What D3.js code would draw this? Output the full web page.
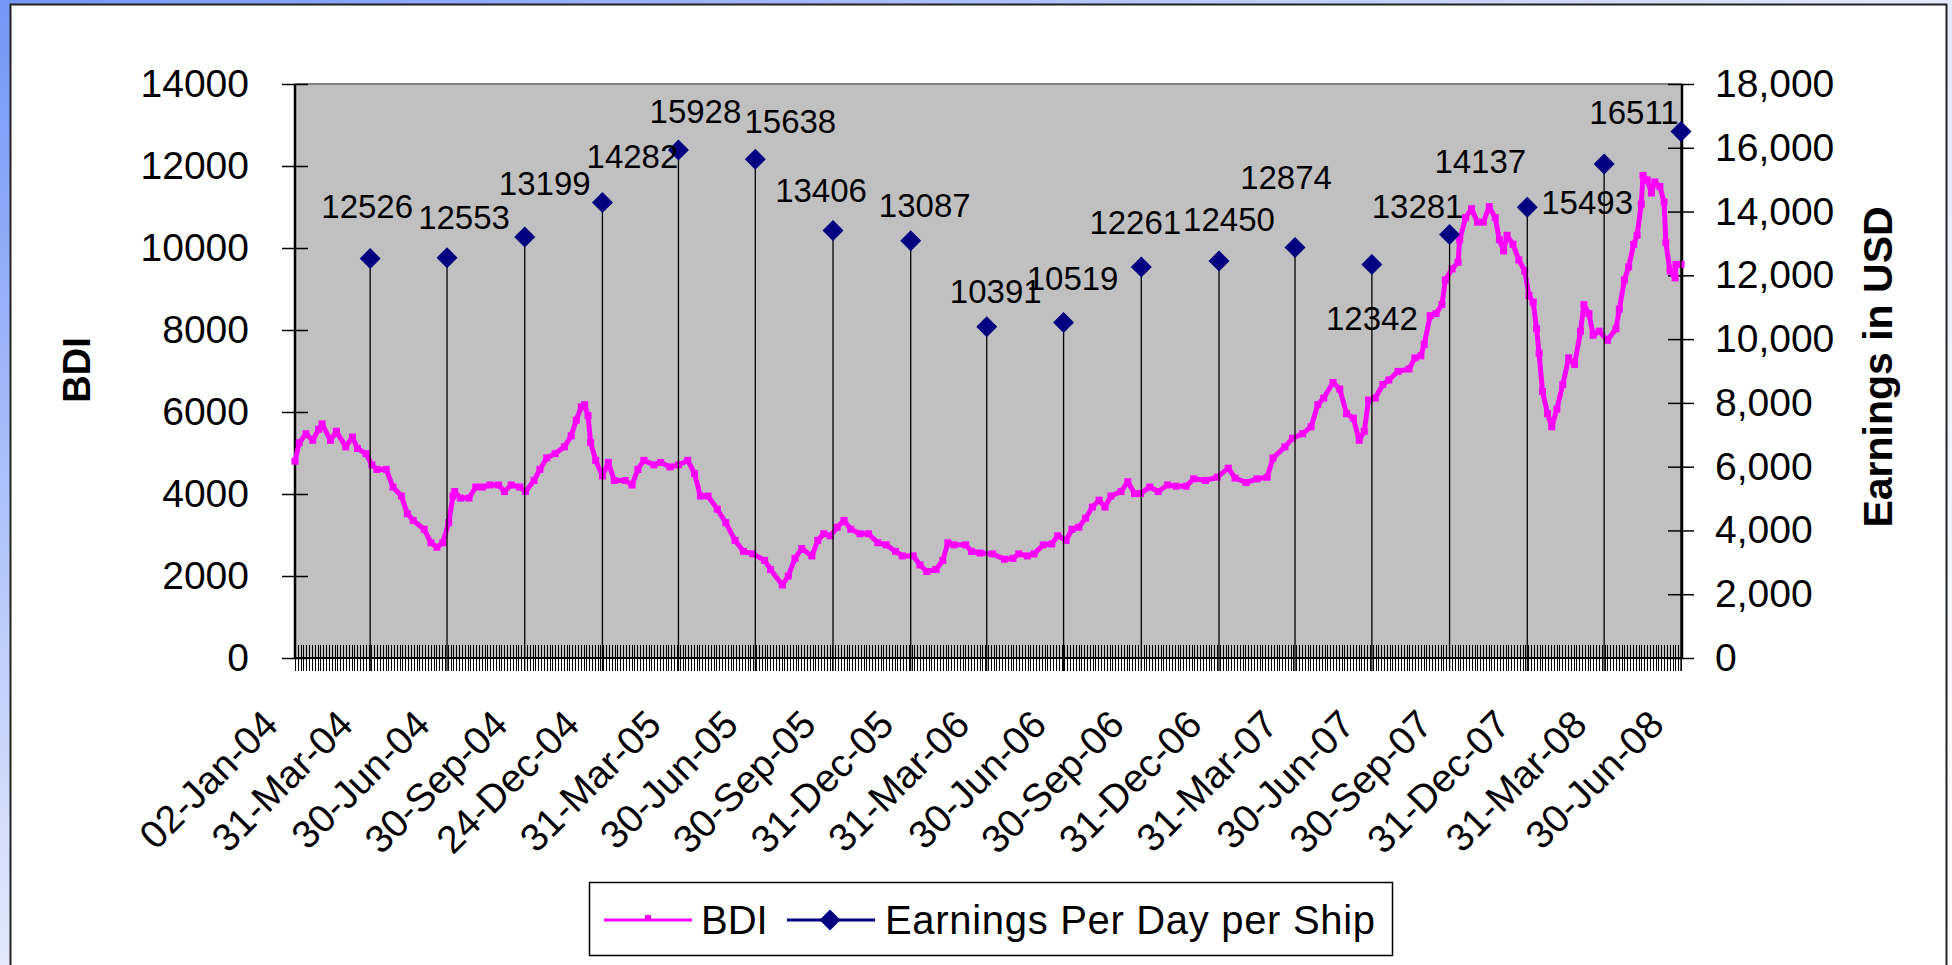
<!DOCTYPE html>
<html>
<head>
<meta charset="utf-8">
<script src="https://cdn.jsdelivr.net/npm/d3@7/dist/d3.min.js"></script>
<style>
html, body { margin: 0; padding: 0; background: #fff; overflow: hidden; }
svg { display: block; font-family: "Liberation Sans", Arial, sans-serif; }
</style>
</head>
<body>
<svg id="chart" width="1952" height="965"></svg>
<script>
//*
//* Data
//*

var bdiDates = [
	"2004-01-02","2004-01-07","2004-01-15","2004-01-23","2004-01-30","2004-02-03","2004-02-13","2004-02-20",
	"2004-03-02","2004-03-10","2004-03-16","2004-03-26","2004-04-02","2004-04-08","2004-04-19","2004-04-27",
	"2004-05-07","2004-05-14","2004-05-21","2004-06-03","2004-06-11","2004-06-18","2004-06-25","2004-07-02",
	"2004-07-07","2004-07-09","2004-07-16","2004-07-26","2004-08-03","2004-08-11","2004-08-20","2004-08-30",
	"2004-09-06","2004-09-14","2004-09-24","2004-10-01","2004-10-11","2004-10-18","2004-10-26","2004-11-05",
	"2004-11-16","2004-11-24","2004-11-30","2004-12-06","2004-12-10","2004-12-14","2004-12-17","2004-12-23",
	"2004-12-31","2005-01-07","2005-01-14","2005-01-27","2005-02-04","2005-02-11","2005-02-18","2005-03-02",
	"2005-03-10","2005-03-21","2005-03-31","2005-04-11","2005-04-19","2005-04-26","2005-05-05","2005-05-16",
	"2005-05-26","2005-06-06","2005-06-16","2005-06-27","2005-07-11","2005-07-18","2005-08-01","2005-08-08",
	"2005-08-16","2005-08-24","2005-09-05","2005-09-12","2005-09-19","2005-09-27","2005-10-05","2005-10-13",
	"2005-10-21","2005-11-01","2005-11-11","2005-11-22","2005-12-02","2005-12-13","2005-12-21","2006-01-03",
	"2006-01-11","2006-01-19","2006-01-30","2006-02-07","2006-02-13","2006-02-20","2006-03-06","2006-03-13",
	"2006-03-23","2006-04-07","2006-04-21","2006-05-01","2006-05-08","2006-05-18","2006-05-26","2006-06-06",
	"2006-06-16","2006-06-23","2006-07-03","2006-07-10","2006-07-18","2006-07-26","2006-08-03","2006-08-11",
	"2006-08-18","2006-08-25","2006-09-06","2006-09-14","2006-09-22","2006-09-29","2006-10-10","2006-10-20",
	"2006-10-31","2006-11-10","2006-11-22","2006-12-01","2006-12-15","2006-12-29","2007-01-11","2007-01-19",
	"2007-02-01","2007-02-14","2007-02-26","2007-03-05","2007-03-19","2007-03-28","2007-04-09","2007-04-19",
	"2007-04-27","2007-05-04","2007-05-15","2007-05-23","2007-05-31","2007-06-08","2007-06-15","2007-06-21",
	"2007-06-26","2007-07-04","2007-07-13","2007-07-20","2007-07-31","2007-08-13","2007-08-20","2007-08-27",
	"2007-08-31","2007-09-07","2007-09-14","2007-09-21","2007-09-25","2007-10-03","2007-10-10","2007-10-12",
	"2007-10-19","2007-10-26","2007-11-02","2007-11-09","2007-11-16","2007-11-23","2007-11-28","2007-12-03",
	"2007-12-07","2007-12-14","2007-12-21","2007-12-28","2008-01-02","2008-01-07","2008-01-11","2008-01-14",
	"2008-01-18","2008-01-24","2008-01-29","2008-02-04","2008-02-11","2008-02-18","2008-02-25","2008-03-03",
	"2008-03-07","2008-03-13","2008-03-18","2008-03-25","2008-04-04","2008-04-14","2008-04-18","2008-04-24",
	"2008-04-29","2008-05-05","2008-05-09","2008-05-14","2008-05-16","2008-05-21","2008-05-26","2008-05-30",
	"2008-06-05","2008-06-10","2008-06-12","2008-06-17","2008-06-23","2008-06-24","2008-06-30"
];
var bdiValues = [
	4800, 5250, 5470, 5310, 5580, 5710, 5310, 5530,
	5150, 5390, 5110, 4985, 4710, 4600, 4600, 4170,
	3950, 3520, 3355, 3140, 2810, 2700, 2810, 3300,
	3950, 4060, 3900, 3900, 4170, 4170, 4220, 4220,
	4060, 4220, 4170, 4060, 4330, 4600, 4880, 4985,
	5150, 5420, 5800, 6125, 6180, 5910, 5260, 4820,
	4440, 4770, 4330, 4330, 4220, 4600, 4820, 4710,
	4770, 4660, 4710, 4820, 4500, 3950, 3950, 3630,
	3300, 2870, 2600, 2540, 2380, 2160, 1780, 2000,
	2430, 2670, 2490, 2870, 3030, 2980, 3190, 3355,
	3140, 3030, 3030, 2810, 2760, 2600, 2490, 2490,
	2270, 2110, 2160, 2380, 2810, 2760, 2760, 2600,
	2560, 2540, 2410, 2430, 2540, 2490, 2540, 2760,
	2780, 2980, 2870, 3140, 3190, 3410, 3680, 3850,
	3680, 3950, 4060, 4300, 4010, 4010, 4170, 4060,
	4220, 4190, 4190, 4370, 4330, 4410, 4630, 4390,
	4280, 4370, 4410, 4880, 5150, 5360, 5470, 5640,
	6180, 6340, 6720, 6560, 5960, 5850, 5310, 5530,
	6290, 6340, 6670, 6780, 6990, 7050, 7320, 7370,
	7650, 8350, 8400, 8620, 9220, 9490, 9650, 10200,
	10740, 10960, 10630, 10630, 11010, 10740, 10200, 9930,
	10310, 10090, 9710, 9440, 8840, 8680, 8030, 7430,
	6500, 5960, 5640, 6070, 6670, 7320, 7160, 7970,
	8620, 8400, 7870, 7970, 7750, 8030, 8510, 9220,
	9540, 10090, 10310, 11070, 11770, 11660, 11340, 11610,
	11500, 11120, 10140, 9440, 9270, 9600, 9600
];

var earnDates = [
	"2004-03-31","2004-06-30","2004-09-30","2004-12-31","2005-03-31","2005-06-30",
	"2005-09-30","2005-12-31","2006-03-31","2006-06-30","2006-09-30","2006-12-31",
	"2007-03-31","2007-06-30","2007-09-30","2007-12-31","2008-03-31","2008-06-30"
];
var earnValues = [
	12526, 12553, 13199, 14282, 15928, 15638,
	13406, 13087, 10391, 10519, 12261, 12450,
	12874, 12342, 13281, 14137, 15493, 16511
];

var xLabelDates = [
	"2004-01-02","2004-03-31","2004-06-30","2004-09-30","2004-12-24","2005-03-31","2005-06-30",
	"2005-09-30","2005-12-31","2006-03-31","2006-06-30","2006-09-30","2006-12-31","2007-03-31",
	"2007-06-30","2007-09-30","2007-12-31","2008-03-31","2008-06-30"
];
var leftTicks = [0, 2000, 4000, 6000, 8000, 10000, 12000, 14000];
var rightTicks = [0, 2000, 4000, 6000, 8000, 10000, 12000, 14000, 16000, 18000];

// where each earnings label sits, relative to its marker
var labelDx = [-3, 17, 20, 30, 17, 35, -12, 14, 9, 9, -6, 10, -9, 0, -32, -47, -17, -47];
var labelDy = [-41, -29, -42, -35, -27, -26, -28, -24, -24, -33, -33, -30, -58, 66, -16, -34, 50, -7];

//*
//* Drawing
//*

var parse = d3.timeParse("%Y-%m-%d");
var fmtDate = d3.timeFormat("%d-%b-%y");

var plotLeft = 295, plotRight = 1682, plotTop = 84, plotBottom = 658;

var x = d3.scaleTime()
	.domain([parse("2004-01-02"), parse("2008-06-30")])
	.range([plotLeft, plotRight - 1]);
var yL = d3.scaleLinear().domain([0, 14000]).range([plotBottom, plotTop]);
var yR = d3.scaleLinear().domain([0, 18000]).range([plotBottom, plotTop]);

var svg = d3.select("#chart");

/* background */
var grad = svg.append("defs").append("linearGradient")
	.attr("id", "bg")
	.attr("x1", 0).attr("y1", 0).attr("x2", 1).attr("y2", 1);
grad.append("stop").attr("offset", "0").attr("stop-color", "#7596f7");
grad.append("stop").attr("offset", "0.5").attr("stop-color", "#e4e9fb");
grad.append("stop").attr("offset", "1").attr("stop-color", "#ffffff");

svg.append("rect")
	.attr("width", 1952).attr("height", 965)
	.attr("fill", "url(#bg)");
svg.append("rect")
	.attr("x", 10.5).attr("y", 4.5)
	.attr("width", 1936).attr("height", 1000)
	.attr("fill", "#fff")
	.attr("stroke", "#222")
	.attr("stroke-width", 2);

/* plot area */
svg.append("rect")
	.attr("x", plotLeft).attr("y", plotTop)
	.attr("width", plotRight - plotLeft).attr("height", plotBottom - plotTop)
	.attr("fill", "#c0c0c0");
svg.append("line")
	.attr("x1", plotLeft).attr("x2", plotRight)
	.attr("y1", plotTop).attr("y2", plotTop)
	.attr("stroke", "#808080")
	.attr("stroke-width", 2);

/* category tick comb */
var nTicks = 490;
var combX = d3.range(nTicks + 1).map(function(i) { return plotLeft + i * (plotRight - 1 - plotLeft) / nTicks; });
svg.append("g")
	.selectAll("line")
	.data(combX)
	.enter()
	.append("line")
	.attr("x1", function(d) { return Math.round(d) + 0.5; })
	.attr("x2", function(d) { return Math.round(d) + 0.5; })
	.attr("y1", plotBottom - 13)
	.attr("y2", plotBottom + 13)
	.attr("stroke", "#000")
	.attr("stroke-width", 1);

/* left axis */
var gL = svg.append("g")
	.attr("transform", "translate(" + plotLeft + ",0)")
	.call(d3.axisLeft(yL).tickValues(leftTicks).tickFormat(d3.format("d")).tickSize(13).tickPadding(33));
gL.select(".domain").remove();
gL.selectAll(".tick line").attr("x1", 13).attr("stroke", "#000").attr("stroke-width", 1.5);
gL.selectAll(".tick text")
	.attr("font-size", 39)
	.attr("font-family", "Liberation Sans, Arial, sans-serif")
	.attr("fill", "#000");

/* right axis */
var gR = svg.append("g")
	.attr("transform", "translate(" + plotRight + ",0)")
	.call(d3.axisRight(yR).tickValues(rightTicks).tickFormat(d3.format(",")).tickSize(12).tickPadding(21));
gR.select(".domain").remove();
gR.selectAll(".tick line").attr("x1", -14).attr("stroke", "#000").attr("stroke-width", 1.5);
gR.selectAll(".tick text")
	.attr("font-size", 39)
	.attr("font-family", "Liberation Sans, Arial, sans-serif")
	.attr("fill", "#000");

/* axis lines */
svg.append("line")
	.attr("x1", plotLeft).attr("x2", plotLeft).attr("y1", plotTop).attr("y2", plotBottom)
	.attr("stroke", "#000").attr("stroke-width", 2.5);
svg.append("line")
	.attr("x1", plotRight).attr("x2", plotRight).attr("y1", plotTop).attr("y2", plotBottom)
	.attr("stroke", "#000").attr("stroke-width", 2.5);
svg.append("line")
	.attr("x1", plotLeft).attr("x2", plotRight).attr("y1", plotBottom).attr("y2", plotBottom)
	.attr("stroke", "#000").attr("stroke-width", 2);

/* x labels */
svg.append("g")
	.selectAll("text")
	.data(xLabelDates)
	.enter()
	.append("text")
	.attr("transform", function(d) { return "translate(" + (x(parse(d)) - 15) + ",727) rotate(-45)"; })
	.attr("text-anchor", "end")
	.attr("font-size", 39)
	.attr("fill", "#000")
	.text(function(d) { return fmtDate(parse(d)); });

/* axis titles */
svg.append("text")
	.attr("transform", "translate(90,370) rotate(-90)")
	.attr("text-anchor", "middle")
	.attr("font-size", 38)
	.attr("font-weight", "bold")
	.text("BDI");
svg.append("text")
	.attr("transform", "translate(1892,367) rotate(-90)")
	.attr("text-anchor", "middle")
	.attr("font-size", 41)
	.attr("font-weight", "bold")
	.text("Earnings in USD");

/* BDI line */
var bdi = bdiDates.map(function(d, i) { return { date: parse(d), v: bdiValues[i] }; });
var line = d3.line()
	.x(function(d) { return x(d.date); })
	.y(function(d) { return yL(d.v); });
svg.append("path")
	.datum(bdi)
	.attr("d", line)
	.attr("fill", "none")
	.attr("stroke", "#ff00ff")
	.attr("stroke-width", 5)
	.attr("stroke-linejoin", "round");
svg.append("g")
	.selectAll("rect")
	.data(bdi)
	.enter()
	.append("rect")
	.attr("x", function(d) { return x(d.date) - 3.5; })
	.attr("y", function(d) { return yL(d.v) - 3.5; })
	.attr("width", 7)
	.attr("height", 7)
	.attr("fill", "#ff00ff");

/* earnings: drop lines, markers, labels */
var earn = earnDates.map(function(d, i) { return { date: parse(d), v: earnValues[i], i: i }; });
svg.append("g")
	.selectAll("line")
	.data(earn)
	.enter()
	.append("line")
	.attr("x1", function(d) { return x(d.date); })
	.attr("x2", function(d) { return x(d.date); })
	.attr("y1", function(d) { return yR(d.v); })
	.attr("y2", plotBottom + 13)
	.attr("stroke", "#000")
	.attr("stroke-width", 1.3);

var diamond = d3.symbol().type(d3.symbolSquare).size(220);
svg.append("g")
	.selectAll("path")
	.data(earn)
	.enter()
	.append("path")
	.attr("d", diamond)
	.attr("transform", function(d) { return "translate(" + x(d.date) + "," + yR(d.v) + ") rotate(45)"; })
	.attr("fill", "#000080");

svg.append("g")
	.selectAll("text")
	.data(earn)
	.enter()
	.append("text")
	.attr("x", function(d) { return x(d.date) + labelDx[d.i]; })
	.attr("y", function(d) { return yR(d.v) + labelDy[d.i]; })
	.attr("text-anchor", "middle")
	.attr("font-size", 33)
	.attr("fill", "#000")
	.text(function(d) { return d.v; });

/* legend */
var lg = svg.append("g");
lg.append("rect")
	.attr("x", 589.5).attr("y", 882.5)
	.attr("width", 803).attr("height", 73)
	.attr("fill", "#fff")
	.attr("stroke", "#000")
	.attr("stroke-width", 1.5);
lg.append("line")
	.attr("x1", 604).attr("x2", 692).attr("y1", 920).attr("y2", 920)
	.attr("stroke", "#ff00ff").attr("stroke-width", 3);
lg.append("rect")
	.attr("x", 645).attr("y", 915).attr("width", 6).attr("height", 6)
	.attr("fill", "#ff00ff");
lg.append("text")
	.attr("x", 701).attr("y", 934)
	.attr("font-size", 40)
	.text("BDI");
lg.append("line")
	.attr("x1", 787).attr("x2", 875).attr("y1", 920).attr("y2", 920)
	.attr("stroke", "#000080").attr("stroke-width", 3);
lg.append("path")
	.attr("d", diamond)
	.attr("transform", "translate(830,920) rotate(45)")
	.attr("fill", "#000080");
lg.append("text")
	.attr("x", 885).attr("y", 934)
	.attr("font-size", 40)
	.attr("textLength", 490)
	.attr("lengthAdjust", "spacing")
	.text("Earnings Per Day per Ship");
</script>
</body>
</html>
